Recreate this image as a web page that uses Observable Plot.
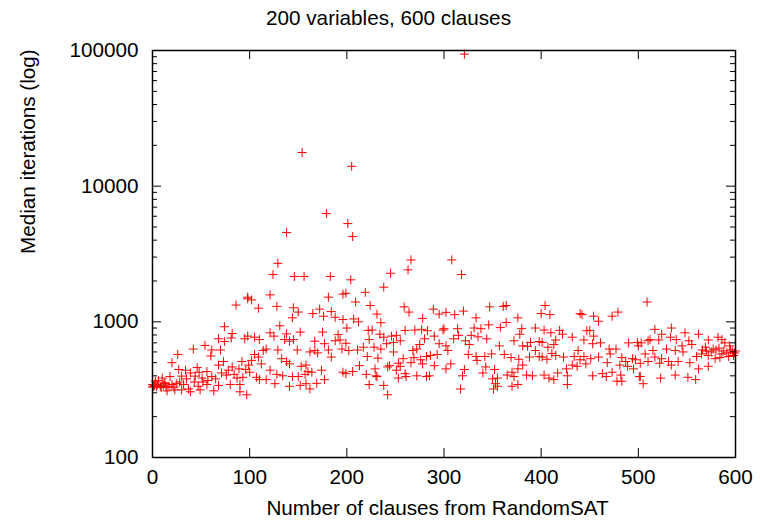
<!DOCTYPE html>
<html>
<head>
<meta charset="utf-8">
<script src="https://cdn.jsdelivr.net/npm/d3@7"></script>
<script src="https://cdn.jsdelivr.net/npm/@observablehq/plot@0.6"></script>
<style>
  html, body { margin: 0; padding: 0; background: #fff; }
  #chart svg { display: block; }
</style>
</head>
<body>
<div id="chart"></div>
<script>
const titleText = "200 variables, 600 clauses";
const xLabel = "Number of clauses from RandomSAT";
const yLabel = "Median iterations (log)";

const xTicks = [0, 100, 200, 300, 400, 500, 600];
const yMajorTicks = [100, 1000, 10000, 100000];
const yMinorTicks = [200, 300, 400, 500, 600, 700, 800, 900,
  2000, 3000, 4000, 5000, 6000, 7000, 8000, 9000,
  20000, 30000, 40000, 50000, 60000, 70000, 80000, 90000];

// Number of clauses (x) and median iterations (y)
const clauses = [
  86,98,74,82,81,68,74,95,54,42,26,61,70,60,20,73,92,68,46,27,34,39,48,56,82,89,96,18,30,44,51,61,76,87,10,3,6,0,1,8,13,15,23,30,37,39,49,63,56,32,80,90,90,68,20,17,47,99,
  0,2,4,5,9,11,12,14,22,25,28,35,43,52,57,65,71,78,84,93,97,
  129,124,146,156,183,121,98,102,128,109,145,150,181,196,172,165,176,184,188,196,144,131,152,175,191,121,125,138,136,145,141,98,105,110,167,188,193,177,117,114,129,149,162,167,170,181,184,195,105,102,109,112,133,138,141,153,158,100,121,128,134,144,150,157,160,164,174,196,107,110,117,126,141,152,158,162,169,177,
  266,263,245,204,238,199,219,209,224,259,264,289,231,235,278,295,207,212,200,222,226,260,270,277,283,299,234,246,251,290,238,223,255,280,199,241,248,275,295,228,211,217,202,235,248,268,272,286,293,221,232,282,269,258,276,244,253,255,266,278,290,213,206,229,251,260,272,220,230,199,242,285,282,253,261,231,223,238,242,
  308,318,320,302,347,361,364,311,333,376,400,346,358,364,300,314,331,338,380,394,315,310,328,335,344,378,322,326,372,381,389,398,302,357,304,386,394,325,333,342,349,362,369,388,398,377,334,307,302,381,376,370,343,352,321,340,319,385,391,365,350,355,372,353,376,370,317,351,355,
  404,409,440,442,454,459,473,479,403,410,419,422,432,447,450,454,415,444,461,401,470,477,490,500,499,407,413,453,438,471,411,415,406,423,434,444,451,459,483,487,494,497,440,401,468,432,426,437,446,481,489,495,417,427,403,453,463,467,473,482,501,413,408,427,478,483,
  509,517,534,548,562,524,533,539,552,582,586,572,512,503,510,521,545,555,577,589,594,515,529,538,546,569,565,560,572,586,593,597,598,507,517,524,531,541,553,502,510,579,584,572,562,534,522,538,551,559,523,502,505,
  575,580,588,591,595,599,600,583,570,566,
  154,205,201,206,138,179,321
];
const iterations = [
  1330,1520,920,820,760,750,715,750,670,630,575,620,620,560,500,510,510,480,460,445,440,420,425,430,465,450,445,395,398,398,385,395,405,385,385,365,370,345,335,335,350,310,315,315,320,305,315,310,345,345,345,345,305,340,345,335,335,480,
  330,340,332,345,328,340,355,330,330,350,360,380,360,360,370,380,420,440,410,390,290,
  2700,2230,2160,2160,2160,1580,1480,1450,1300,1260,1270,1180,1520,1600,1240,1150,1100,1190,1080,1040,1070,935,840,840,805,830,785,815,740,740,720,785,770,740,720,725,735,690,630,615,620,620,600,615,590,620,550,630,575,520,550,490,535,510,490,470,480,425,440,410,400,395,395,410,430,425,440,425,390,375,375,350,335,340,350,320,352,375,
  2860,2415,2280,2040,1800,1625,1650,1400,1320,1290,1180,1240,1140,985,1060,1140,1050,1000,900,865,870,865,870,880,860,870,810,785,795,785,770,740,725,750,695,690,705,680,690,650,620,650,615,630,600,615,630,565,575,555,540,555,545,535,525,475,495,470,500,490,475,475,430,450,440,415,400,410,400,415,465,400,395,385,395,395,345,340,290,
  2860,2230,1200,1175,1290,1300,1320,1130,1070,1070,1150,950,910,990,890,890,900,890,890,900,795,750,795,775,750,810,725,680,725,665,705,715,665,665,615,660,615,575,555,555,580,575,545,550,555,530,520,490,450,480,450,425,465,445,445,420,400,405,400,405,380,385,395,350,345,335,320,320,335,
  1320,1130,1150,1130,1100,1010,1100,1180,870,830,865,810,770,860,865,785,735,735,700,705,630,630,700,665,705,650,680,690,615,580,585,565,530,550,555,555,535,550,545,510,535,525,525,550,500,480,450,470,490,480,470,450,420,400,405,400,415,395,425,405,395,375,385,345,365,365,
  1400,880,900,830,810,810,770,740,725,770,740,735,740,700,725,735,665,680,630,700,665,615,630,615,600,650,580,555,565,580,555,600,565,580,550,535,510,510,500,495,510,535,545,470,450,480,495,405,390,375,385,395,350,
  600,620,610,590,620,590,610,640,610,620,
  17700,14000,5300,4250,4550,6280,94000
];

const data = clauses.map((x, i) => ({x, y: iterations[i]}));

const W = 761, H = 523;
const mL = 152, mR = 26, mT = 50, mB = 66;
const fw = W - mL - mR, fh = H - mT - mB;

const plusSymbol = {
  draw(context, size) {
    const r = Math.sqrt(size / Math.PI);
    context.moveTo(-r, 0); context.lineTo(r, 0);
    context.moveTo(0, -r); context.lineTo(0, r);
  }
};

const font = "Liberation Sans, Arial, Helvetica, sans-serif";
const fs = 20.7;

const chart = Plot.plot({
  width: W, height: H,
  marginLeft: mL, marginRight: mR, marginTop: mT, marginBottom: mB,
  style: {fontFamily: font, fontSize: fs + "px", color: "#000", background: "#fff"},
  x: {domain: [0, 600]},
  y: {type: "log", domain: [100, 100000]},
  marks: [
    Plot.dot(data, {x: "x", y: "y", symbol: plusSymbol, r: 4.5, stroke: "#ff0000", fill: "none", strokeWidth: 1}),
    Plot.tickY(yMajorTicks, {y: d => d, insetRight: fw - 9, stroke: "#000", strokeWidth: 1}),
    Plot.tickY(yMajorTicks, {y: d => d, insetLeft: fw - 9, stroke: "#000", strokeWidth: 1}),
    Plot.tickY(yMinorTicks, {y: d => d, insetRight: fw - 5, stroke: "#000", strokeWidth: 1}),
    Plot.tickY(yMinorTicks, {y: d => d, insetLeft: fw - 5, stroke: "#000", strokeWidth: 1}),
    Plot.tickX(xTicks, {x: d => d, insetTop: fh - 9, stroke: "#000", strokeWidth: 1}),
    Plot.tickX(xTicks, {x: d => d, insetBottom: fh - 9, stroke: "#000", strokeWidth: 1}),
    Plot.axisY(yMajorTicks, {tickSize: 0, tickPadding: 14, tickFormat: d => String(d), fontSize: fs, label: null}),
    Plot.axisX(xTicks, {tickSize: 0, tickPadding: 12, tickFormat: d => String(d), fontSize: fs, label: null}),
    Plot.frame({stroke: "#000", strokeWidth: 1.5}),
    Plot.text([titleText], {frameAnchor: "top", text: d => d, dx: 388 - (mL + fw / 2), dy: -32, fontSize: fs, lineAnchor: "middle", fill: "#000"}),
    Plot.text([xLabel], {frameAnchor: "bottom", text: d => d, dx: 437 - (mL + fw / 2), dy: 51, fontSize: fs, lineAnchor: "middle", fill: "#000"}),
    Plot.text([yLabel], {frameAnchor: "left", text: d => d, dx: 28 - mL, rotate: -90, fontSize: fs, lineAnchor: "middle", fill: "#000"})
  ]
});
document.getElementById("chart").appendChild(chart);
</script>
</body>
</html>
